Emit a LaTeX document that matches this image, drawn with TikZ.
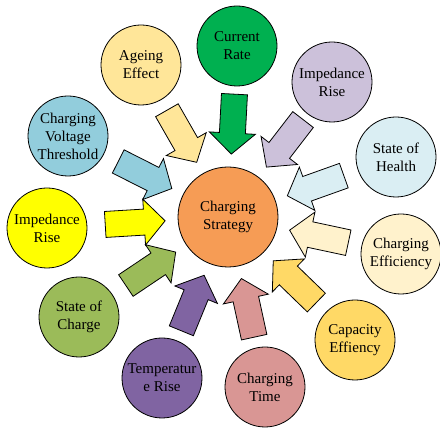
\documentclass[tikz,border=0pt]{standalone}
\usepackage{fontspec}
\setmainfont{Liberation Serif}
\usetikzlibrary{calc}
\definecolor{corange}{HTML}{F69C55}
\definecolor{cgreen}{HTML}{00B050}
\definecolor{cpeach}{HTML}{FFE699}
\definecolor{clilac}{HTML}{CCC1DA}
\definecolor{cice}{HTML}{DAEEF3}
\definecolor{ccream}{HTML}{FFF2CC}
\definecolor{cgold}{HTML}{FFD966}
\definecolor{crose}{HTML}{D99694}
\definecolor{cpurple}{HTML}{8064A2}
\definecolor{colive}{HTML}{9BBB59}
\definecolor{cyellow}{HTML}{FFFF00}
\definecolor{caqua}{HTML}{92CDDC}
\tikzset{
  every picture/.style={line width=0.8pt},
  factor/.style={circle, draw=black, fill=#1, minimum size=80pt, inner sep=1pt, align=center, font=\fontsize{15}{18}\selectfont},
  hub/.style={factor=#1, minimum size=100pt},
  blockarrow/.style={draw=black, fill=#1, line width=0.8pt},
}
\begin{document}
\begin{tikzpicture}[x=1pt, y=1pt]
  \useasboundingbox (0,0) rectangle (440,428);
  % centre
  \node[hub=corange] (hub) at (228,211) {Charging\\Strategy};
  % surrounding factors
  \foreach \n/\x/\y/\c/\t in {rate/237/382/cgreen/{Current\\Rate}, ageing/141/363/cpeach/{Ageing\\Effect},
      impA/332/346/clilac/{Impedance\\Rise}, soh/396/271/cice/{State of\\Health},
      eff/401/174/ccream/{Charging\\Efficiency}, cap/355/88/cgold/{Capacity\\Effiency},
      time/265/41/crose/{Charging\\Time}, temp/162/50/cpurple/{Temperatur\\e Rise},
      soc/79/111/colive/{State of\\Charge}, impB/47/200/cyellow/{Impedance\\Rise},
      volt/68/292/caqua/{Charging\\Voltage\\Threshold}}
    \node[factor=\c] (\n) at (\x,\y) {\t};
  % block arrows pointing at the centre
  \foreach \n/\c in {rate/cgreen, ageing/cpeach, impA/clilac, soh/cice, eff/ccream, cap/cgold,
      time/crose, temp/cpurple, soc/colive, impB/cyellow, volt/caqua} {
    \coordinate (s) at ($(hub)!123pt!(\n)$);
    \coordinate (h) at ($(hub)!84pt!(\n)$);
    \coordinate (t) at ($(hub)!63pt!(\n)$);
    \filldraw[blockarrow=\c] ($(s)!13pt!90:(t)$) -- ($(h)!13pt!90:(t)$) -- ($(h)!23pt!90:(t)$) -- (t)
      -- ($(h)!23pt!-90:(t)$) -- ($(h)!13pt!-90:(t)$) -- ($(s)!13pt!-90:(t)$) -- cycle;
  }
\end{tikzpicture}
\end{document}
